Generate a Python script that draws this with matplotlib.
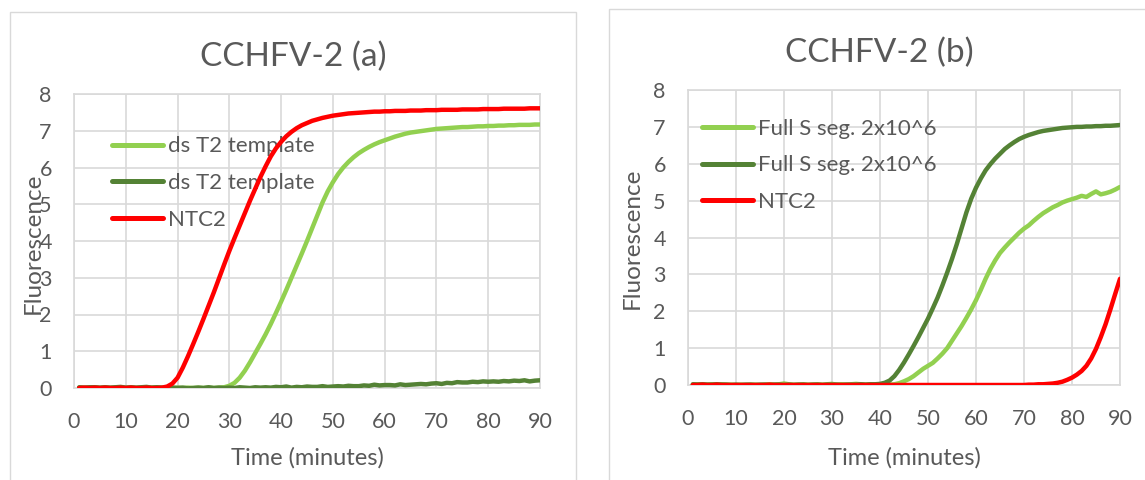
import matplotlib
matplotlib.use("Agg")
import matplotlib.pyplot as plt
from matplotlib.patches import Rectangle

# ---------------- data ----------------
time_min = list(range(1, 91))

a_title = "CCHFV-2 (a)"
a_labels = ["ds T2 template", "ds T2 template", "NTC2"]
a_light = [0.01, 0.0, 0.01, 0.02, 0.0, 0.01, 0.0, 0.01, 0.02, 0.0,
           0.01, 0.0, 0.01, 0.0, 0.01, 0.02, 0.0, 0.01, 0.0, 0.01,
           0.0, 0.01, 0.0, 0.01, 0.0, 0.01, 0.0, 0.01, 0.02, 0.06,
           0.14, 0.28, 0.47, 0.7, 0.95, 1.2, 1.46, 1.74, 2.04, 2.35,
           2.67, 3.0, 3.33, 3.66, 4.0, 4.35, 4.7, 5.05, 5.35, 5.6,
           5.82, 6.0, 6.15, 6.28, 6.39, 6.48, 6.56, 6.63, 6.69, 6.74,
           6.79, 6.84, 6.88, 6.92, 6.95, 6.97, 6.99, 7.01, 7.03, 7.05,
           7.06, 7.07, 7.08, 7.09, 7.1, 7.1, 7.11, 7.12, 7.12, 7.13,
           7.13, 7.14, 7.14, 7.15, 7.15, 7.16, 7.16, 7.16, 7.17, 7.17]
a_dark = [0.02, 0.01, 0.02, 0.02, 0.01, 0.02, 0.01, 0.02, 0.03, 0.01,
          0.02, 0.01, 0.02, 0.03, 0.01, 0.02, 0.01, 0.0, 0.01, 0.0,
          0.01, -0.01, 0.0, 0.01, 0.0, 0.02, 0.0, 0.01, 0.0, 0.01,
          0.0, 0.02, 0.01, 0.0, 0.02, 0.01, 0.02, 0.01, 0.03, 0.02,
          0.04, 0.01, 0.03, 0.02, 0.04, 0.03, 0.03, 0.05, 0.03, 0.04,
          0.05, 0.04, 0.06, 0.05, 0.05, 0.07, 0.06, 0.09, 0.07, 0.08,
          0.08, 0.07, 0.1, 0.08, 0.09, 0.1, 0.11, 0.1, 0.12, 0.13,
          0.11, 0.14, 0.13, 0.16, 0.15, 0.15, 0.17, 0.16, 0.18, 0.17,
          0.18, 0.17, 0.19, 0.18, 0.2, 0.19, 0.21, 0.18, 0.2, 0.21]
a_red = [0.0, 0.01, 0.0, 0.01, 0.0, 0.01, 0.0, 0.0, 0.01, 0.0,
         0.01, 0.0, 0.0, 0.01, 0.0, 0.0, 0.01, 0.04, 0.12, 0.28,
         0.55, 0.86, 1.19, 1.53, 1.88, 2.24, 2.6, 2.98, 3.36, 3.73,
         4.08, 4.42, 4.76, 5.1, 5.42, 5.74, 6.03, 6.3, 6.52, 6.7,
         6.85, 6.97, 7.07, 7.15, 7.21, 7.27, 7.31, 7.35, 7.38, 7.41,
         7.43, 7.45, 7.47, 7.48, 7.49, 7.5, 7.51, 7.52, 7.52, 7.53,
         7.53, 7.54, 7.54, 7.54, 7.55, 7.55, 7.55, 7.56, 7.56, 7.56,
         7.57, 7.57, 7.57, 7.57, 7.58, 7.58, 7.58, 7.58, 7.59, 7.59,
         7.59, 7.59, 7.6, 7.6, 7.6, 7.6, 7.6, 7.61, 7.61, 7.61]

b_title = "CCHFV-2 (b)"
b_labels = ["Full S seg. 2x10^6", "Full S seg. 2x10^6", "NTC2"]
b_light = [0.01, 0.02, 0.01, 0.01, 0.02, 0.01, 0.02, 0.01, 0.01, 0.0,
           0.01, 0.0, 0.01, 0.01, 0.0, 0.01, 0.02, 0.01, 0.02, 0.04,
           0.02, 0.01, 0.01, 0.02, 0.01, 0.01, 0.02, 0.01, 0.02, 0.03,
           0.01, 0.02, 0.01, 0.02, 0.03, 0.02, 0.01, 0.02, 0.01, 0.02,
           0.02, 0.01, 0.02, 0.05, 0.1, 0.16, 0.24, 0.34, 0.44, 0.52,
           0.6, 0.72, 0.85, 1.0, 1.2, 1.4, 1.6, 1.82, 2.05, 2.3,
           2.58, 2.88, 3.15, 3.38, 3.58, 3.73, 3.87, 4.0, 4.13, 4.24,
           4.33, 4.45, 4.56, 4.66, 4.74, 4.82, 4.88, 4.95, 5.0, 5.04,
           5.08, 5.13, 5.1, 5.18, 5.25, 5.17, 5.2, 5.24, 5.3, 5.37]
b_dark = [0.02, 0.01, 0.02, 0.01, 0.01, 0.02, 0.01, 0.01, 0.0, 0.01,
          0.0, 0.01, 0.01, 0.0, 0.01, 0.01, 0.0, 0.01, 0.01, 0.0,
          0.01, 0.0, 0.01, 0.01, 0.0, 0.01, 0.01, 0.0, 0.01, 0.01,
          0.01, 0.0, 0.01, 0.01, 0.01, 0.02, 0.01, 0.02, 0.02, 0.03,
          0.06, 0.12, 0.24, 0.41, 0.61, 0.83, 1.06, 1.3, 1.55, 1.8,
          2.08, 2.37, 2.7, 3.05, 3.42, 3.82, 4.25, 4.68, 5.05, 5.35,
          5.6, 5.82, 5.99, 6.14, 6.27, 6.4, 6.5, 6.59, 6.67, 6.73,
          6.78, 6.82, 6.86, 6.89, 6.91, 6.93, 6.95, 6.97, 6.98, 6.99,
          7.0, 7.0, 7.01, 7.01, 7.02, 7.02, 7.03, 7.03, 7.04, 7.05]
b_red = [0.0, 0.0, 0.01, 0.0, 0.0, 0.01, 0.0, 0.0, 0.0, 0.0,
         0.0, 0.0, 0.0, 0.0, 0.0, 0.0, 0.01, 0.0, 0.0, 0.0,
         0.0, 0.0, 0.0, 0.0, 0.0, 0.0, 0.0, 0.0, 0.0, 0.0,
         0.0, 0.0, 0.0, 0.0, 0.0, 0.0, 0.0, 0.0, 0.0, 0.0,
         0.0, 0.0, 0.0, 0.0, 0.0, 0.0, 0.0, 0.0, 0.0, 0.0,
         0.0, 0.0, 0.0, 0.0, 0.0, 0.0, 0.0, 0.0, 0.0, 0.0,
         0.0, 0.0, 0.0, 0.0, 0.0, 0.0, 0.0, 0.0, 0.0, 0.0,
         0.01, 0.01, 0.02, 0.02, 0.03, 0.04, 0.06, 0.09, 0.14, 0.2,
         0.28, 0.38, 0.52, 0.72, 0.98, 1.3, 1.65, 2.05, 2.47, 2.88]

x_ticks = [0, 10, 20, 30, 40, 50, 60, 70, 80, 90]
y_ticks = [0, 1, 2, 3, 4, 5, 6, 7, 8]
x_label = "Time (minutes)"
y_label = "Fluorescence"

# ---------------- style ----------------
W, H = 1145, 480
LIGHT = "#92D050"
DARK = "#548235"
RED = "#FF0000"
TXT = "#595959"
GRID = "#D9D9D9"
plt.rcParams["font.family"] = ["Lato", "DejaVu Sans"]

fig = plt.figure(figsize=(W / 100, H / 100), dpi=100)


def fx(px):
    return px / W


def fy(py):
    return 1 - py / H


# chart borders
for (x0, y0, x1, y1) in [(10, 12, 576, 520), (609, 9, 1170, 520)]:
    fig.patches.append(Rectangle((fx(x0), fy(y1)), fx(x1) - fx(x0), fy(y0) - fy(y1),
                                 transform=fig.transFigure, fill=False,
                                 edgecolor=GRID, linewidth=1.0))


def make_panel(box, title, labels, series, title_xy, ylab_xy, xlab_y, leg_anchor):
    l, t, r, b = box
    ax = fig.add_axes([fx(l), fy(b), fx(r) - fx(l), fy(t) - fy(b)])
    colors = [LIGHT, DARK, RED]
    for s, c, lab in zip(series, colors, labels):
        ax.plot(time_min, s, color=c, linewidth=3.2, label=lab,
                solid_capstyle="round", solid_joinstyle="round", zorder=3)
    ax.set_xlim(0, 90)
    ax.set_ylim(0, 8)
    ax.set_xticks(x_ticks)
    ax.set_yticks(y_ticks)
    ax.grid(True, color=GRID, linewidth=1.2)
    ax.set_axisbelow(True)
    for sp in ax.spines.values():
        sp.set_color(GRID)
        sp.set_linewidth(1.2)
    ax.tick_params(axis="both", length=0, labelsize=15.5, colors=TXT)
    ax.tick_params(axis="x", pad=17)
    ax.tick_params(axis="y", pad=16)
    leg = ax.legend(loc="upper left", bbox_to_anchor=leg_anchor, frameon=False,
                    fontsize=16, handlelength=2.3, handletextpad=0.22,
                    labelspacing=0.75, borderaxespad=0, borderpad=0)
    for txt in leg.get_texts():
        txt.set_color(TXT)
    for ln in leg.get_lines():
        ln.set_linewidth(3.6)
    leg.set_zorder(1)
    fig.text(fx(title_xy[0]), fy(title_xy[1]), title, ha="center", va="center",
             fontsize=24, color=TXT)
    fig.text(fx(ylab_xy[0]), fy(ylab_xy[1]), y_label, ha="center", va="center",
             rotation=90, fontsize=17.5, color=TXT)
    fig.text(fx((l + r) / 2), fy(xlab_y), x_label, ha="center", va="center",
             fontsize=17, color=TXT)
    return ax


make_panel((74, 94, 540, 388), a_title, a_labels, [a_light, a_dark, a_red],
           (293, 57), (33, 243), 458, (0.0815, 0.8555))
make_panel((688, 90, 1120, 385), b_title, b_labels, [b_light, b_dark, b_red],
           (879, 53), (632, 238), 458, (0.032, 0.903))

fig.savefig("out.png", dpi=100)
